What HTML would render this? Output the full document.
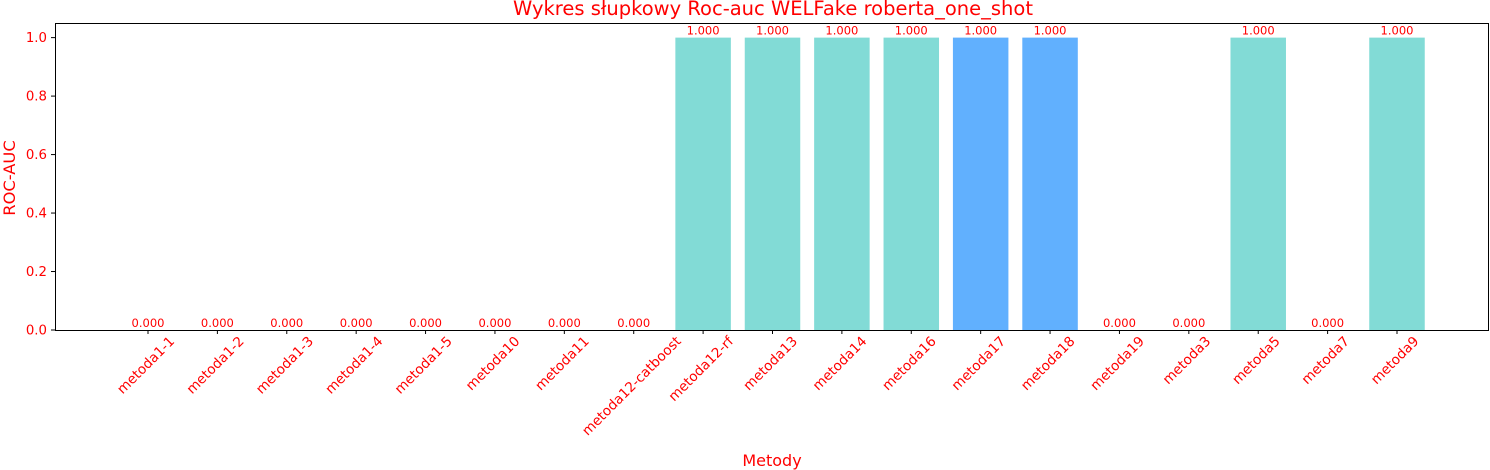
<!DOCTYPE html>
<html><head><meta charset="utf-8"><style>
html,body{margin:0;padding:0;background:#fff}
svg{display:block;font-family:"DejaVu Sans","Liberation Sans",sans-serif}
</style></head><body>
<svg id="chart" width="1490" height="470">
<text x="773" y="15" text-anchor="middle" font-size="19.5" fill="#ff0000">Wykres słupkowy Roc-auc WELFake roberta_one_shot</text>
<text x="15" y="178" text-anchor="middle" font-size="16.3" fill="#ff0000" transform="rotate(-90 15 178)">ROC-AUC</text>
<text x="772" y="466" text-anchor="middle" font-size="16" fill="#ff0000">Metody</text>
<g id="bars"></g><g id="yticks"></g><g id="xticks"></g>
<rect x="55.5" y="23.5" width="1433" height="307" fill="none" stroke="#000" stroke-width="1"/>
</svg>
<script>
const categories=["metoda1-1","metoda1-2","metoda1-3","metoda1-4","metoda1-5","metoda10","metoda11","metoda12-catboost","metoda12-rf","metoda13","metoda14","metoda16","metoda17","metoda18","metoda19","metoda3","metoda5","metoda7","metoda9"];
const values=[0,0,0,0,0,0,0,0,1,1,1,1,1,1,0,0,1,0,1];
const highlight=[0,0,0,0,0,0,0,0,0,0,0,0,1,1,0,0,0,0,0];
const yTicks=[0,0.2,0.4,0.6,0.8,1.0];
const NS="http://www.w3.org/2000/svg";
const x0=148, step=(1397-148)/18, bw=55.5;
const X=i=>x0+i*step;
const Y=v=>330-v*(307/1.05);
function mk(t,a,p){const e=document.createElementNS(NS,t);for(const k in a)e.setAttribute(k,a[k]);p.appendChild(e);return e;}
const gb=document.getElementById('bars'),gy=document.getElementById('yticks'),gx=document.getElementById('xticks');
values.forEach((v,i)=>{
 const r=mk('rect',{x:X(i)-bw/2,y:Y(v),width:bw,height:330-Y(v),fill:highlight[i]?'#61b0fe':'#82dbd6'},gb);
 
 
 const t=mk('text',{x:X(i),y:Y(v)-3,'text-anchor':'middle','font-size':'11.5',fill:'#ff0000'},gb);
 t.textContent=v.toFixed(3);
 
 
 const tk=mk('line',{x1:X(i),x2:X(i),y1:330,y2:334,stroke:'#000'},gx);
 
 
 const lb=mk('text',{'font-size':'13.6',fill:'#ff0000','text-anchor':'end'},gx);
 lb.textContent=categories[i];
 
 
 const L=lb.getComputedTextLength();
 const px=X(i)+L*0.707/2+1, py=342;
 lb.setAttribute('x',px);lb.setAttribute('y',py);
 lb.setAttribute('transform','rotate(-45 '+px+' '+py+')');
});
yTicks.forEach(v=>{
 const l=mk('line',{x1:51,x2:55,y1:Y(v),y2:Y(v),stroke:'#000'},gy);
 
 
 const t=mk('text',{x:47,y:Y(v)+4.5,'text-anchor':'end','font-size':'13.3',fill:'#ff0000'},gy);
 t.textContent=v.toFixed(1);
 
 
});
</script>
</body></html>
